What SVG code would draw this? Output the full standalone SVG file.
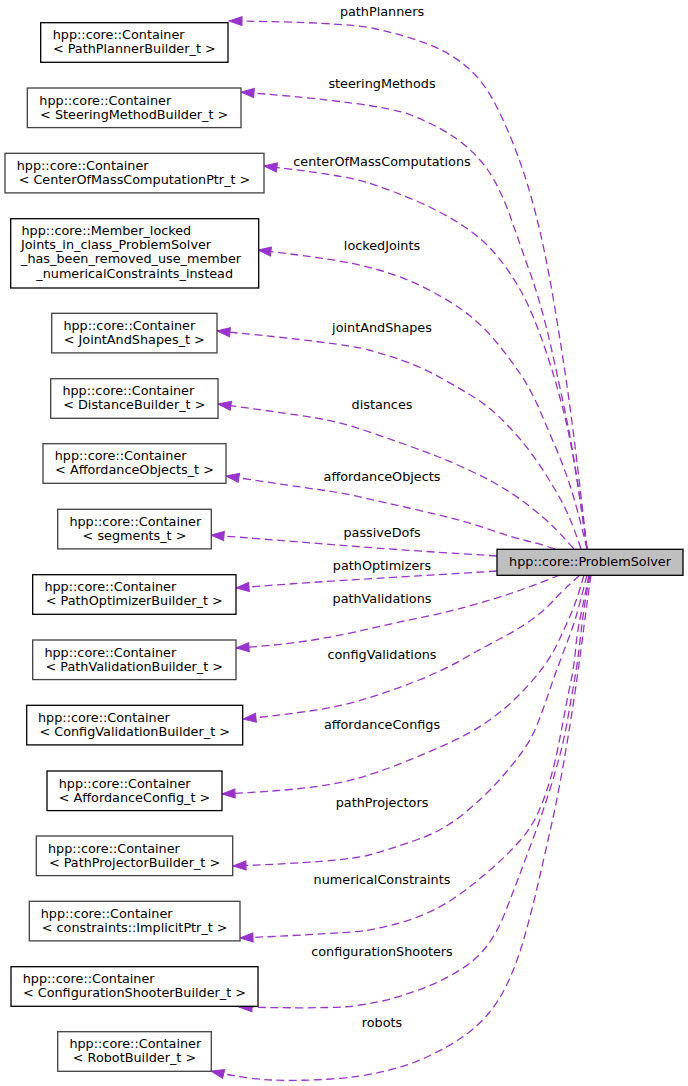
<svg xmlns="http://www.w3.org/2000/svg" width="688" height="1086" viewBox="0 0 688 1086">
<style>
text{font-family:"DejaVu Sans","Liberation Sans",sans-serif;font-size:12.8px;fill:#000}
.m{text-anchor:middle}
.box{fill:#fff;stroke:#000;stroke-width:1.3}
.g{stroke:#404040}
.e{fill:none;stroke:#9a32cd;stroke-width:1.3;stroke-dasharray:8,4.5;marker-end:url(#ah)}
</style>
<defs>
<marker id="ah" markerUnits="userSpaceOnUse" markerWidth="14" markerHeight="10" refX="13" refY="5" orient="auto" overflow="visible">
<path d="M0,0.5 L13,5 L0,9.5 z" fill="#9a32cd" stroke="#9a32cd" stroke-width="1"/>
</marker>
</defs>
<rect width="688" height="1086" fill="#fff"/>
<g id="edges">
<path class="e" d="M587,549 Q576,450 569,400 Q562,350 553.5,300 Q545,250 536,215 Q527,180 517,153.5 Q507,127 495.5,104.5 Q484,82 467.5,67.5 Q451,53 427.5,44 Q404,35 374,28.5 Q344,22 229,21"/>
<path class="e" d="M587,549 Q575,460 567.5,423.5 Q560,387 551,347 Q542,307 531.5,277 Q521,247 511,218.5 Q501,190 489.5,172.5 Q478,155 459.5,141 Q441,127 411,115 Q381,103 241,92"/>
<path class="e" d="M587,549 Q575,460 566.5,423.5 Q558,387 545.5,350 Q533,313 522,293 Q511,273 497.5,256.5 Q484,240 464,226.5 Q444,213 417.5,201.5 Q391,190 367.5,182.5 Q344,175 264,166"/>
<path class="e" d="M587,549 Q577,507 570.5,487 Q564,467 555.5,447 Q547,427 539,408.5 Q531,390 521,375 Q511,360 497.5,343.5 Q484,327 469,315 Q454,303 429,290 Q404,277 379,270 Q354,263 327,259 Q300,255 258,250"/>
<path class="e" d="M581,549 Q574,528 568.5,515.5 Q563,503 555,489.5 Q547,476 537.5,462 Q528,448 517,435.5 Q506,423 495,413 Q484,403 470.5,395 Q457,387 442,378.5 Q427,370 410.5,363.5 Q394,357 369,350 Q344,343 217,331"/>
<path class="e" d="M574,549 Q560,533 551.5,525 Q543,517 530.5,507 Q518,497 504,488.5 Q490,480 472,471.5 Q454,463 437.5,456.5 Q421,450 402.5,443.5 Q384,437 363.5,430 Q343,423 321.5,419 Q300,415 218,404"/>
<path class="e" d="M555,549 Q540,544 525.5,540.5 Q511,537 491,530 Q471,523 451,518 Q431,513 409,508 Q387,503 365,498 Q343,493 321.5,490 Q300,487 226,476"/>
<path class="e" d="M497,556 Q400,550 350,546 Q300,542 211,535"/>
<path class="e" d="M497,571 Q400,577 350,580 Q300,583 236,588"/>
<path class="e" d="M560,575 Q530,587 510.5,593.5 Q491,600 467.5,606.5 Q444,613 419,618 Q394,623 368.5,629 Q343,635 313,640 Q283,645 236,648"/>
<path class="e" d="M580,575 Q563,590 553.5,600.5 Q544,611 530.5,620.5 Q517,630 500.5,638.5 Q484,647 464,658.5 Q444,670 419,680 Q394,690 368.5,698 Q343,706 313,710.5 Q283,715 243,719"/>
<path class="e" d="M584,575 Q577,600 570.5,615 Q564,630 557.5,643.5 Q551,657 541,670 Q531,683 517.5,696.5 Q504,710 487.5,721.5 Q471,733 449,743 Q427,753 402,763 Q377,773 355,779 Q333,785 300,788.5 Q267,792 222,794"/>
<path class="e" d="M587,575 Q580,603 576.5,615 Q573,627 568,640 Q563,653 558,666.5 Q553,680 548,695 Q543,710 537,725 Q531,740 521,753.5 Q511,767 497.5,782 Q484,797 464,813.5 Q444,830 419,839 Q394,848 369,855 Q344,862 233,866"/>
<path class="e" d="M589,575 Q584,600 580.5,616.5 Q577,633 575.5,650 Q574,667 570.5,683.5 Q567,700 564,716.5 Q561,733 557.5,750 Q554,767 549,783.5 Q544,800 537.5,814 Q531,828 520.5,840 Q510,852 499,862 Q488,872 477,881 Q466,890 453.5,898.5 Q441,907 426,913.5 Q411,920 396,924 Q381,928 366,930.5 Q351,933 240,938"/>
<path class="e" d="M590,575 Q584,605 581,632.5 Q578,660 574.5,680 Q571,700 567.5,720 Q564,740 559,758.5 Q554,777 547.5,797 Q541,817 533.5,837.5 Q526,858 519,876.5 Q512,895 504.5,914 Q497,933 486.5,946.5 Q476,960 460,970 Q444,980 427.5,986.5 Q411,993 394,998 Q377,1003 353.5,1006 Q330,1009 239,1007"/>
<path class="e" d="M591,575 Q586,610 583.5,630 Q581,650 577.5,675 Q574,700 570,725 Q566,750 561,777.5 Q556,805 550,831.5 Q544,858 538,884 Q532,910 525,935 Q518,960 509,980 Q500,1000 488.5,1013.5 Q477,1027 462.5,1037 Q448,1047 429,1056 Q410,1065 385.5,1071 Q361,1077 330.5,1079 Q300,1081 272.5,1080 Q245,1079 211,1071"/>
<text class="m" x="382" y="16">pathPlanners</text>
<text class="m" x="382" y="88">steeringMethods</text>
<text class="m" x="382" y="165.5">centerOfMassComputations</text>
<text class="m" x="382" y="249.5">lockedJoints</text>
<text class="m" x="382" y="332">jointAndShapes</text>
<text class="m" x="382" y="409">distances</text>
<text class="m" x="382" y="480.5">affordanceObjects</text>
<text class="m" x="382" y="537">passiveDofs</text>
<text class="m" x="382" y="569.5">pathOptimizers</text>
<text class="m" x="382" y="603">pathValidations</text>
<text class="m" x="382" y="659">configValidations</text>
<text class="m" x="382" y="729">affordanceConfigs</text>
<text class="m" x="382" y="807">pathProjectors</text>
<text class="m" x="382" y="883.5">numericalConstraints</text>
<text class="m" x="382" y="955.5">configurationShooters</text>
<text class="m" x="382" y="1027">robots</text>
</g>
<g id="ProblemSolver">
<rect x="497" y="549.3" width="186" height="26" fill="#bfbfbf" stroke="#000" stroke-width="1.3"/>
<text class="m" x="590" y="566.3">hpp::core::ProblemSolver</text>
</g>
<g id="PathPlannerBuilder">
<rect class="box" x="40.7" y="22.7" width="187.3" height="39.6"/>
<text x="52.7" y="39.3">hpp::core::Container</text>
<text class="m" x="134.3" y="53.3">&lt; PathPlannerBuilder_t &gt;</text>
</g>
<g id="SteeringMethodBuilder">
<rect class="box g" x="27.3" y="88" width="213.7" height="39.6"/>
<text x="39.3" y="104.6">hpp::core::Container</text>
<text class="m" x="134.2" y="118.6">&lt; SteeringMethodBuilder_t &gt;</text>
</g>
<g id="CenterOfMassComputation">
<rect class="box g" x="5" y="153.3" width="259" height="39.6"/>
<text x="16.7" y="169.9">hpp::core::Container</text>
<text class="m" x="134.5" y="183.9">&lt; CenterOfMassComputationPtr_t &gt;</text>
</g>
<g id="MemberLockedJoints">
<rect class="box" x="10.7" y="218.7" width="248" height="69.3"/>
<text x="21.5" y="235">hpp::core::Member_locked</text>
<text x="21" y="249.2">Joints_in_class_ProblemSolver</text>
<text x="21" y="263.4">_has_been_removed_use_member</text>
<text class="m" x="134.7" y="277.6">_numericalConstraints_instead</text>
</g>
<g id="JointAndShapes">
<rect class="box g" x="51.7" y="313.3" width="165.3" height="39.6"/>
<text x="63.4" y="329.9">hpp::core::Container</text>
<text class="m" x="134.3" y="343.9">&lt; JointAndShapes_t &gt;</text>
</g>
<g id="DistanceBuilder">
<rect class="box g" x="50.7" y="378.7" width="167.3" height="39.6"/>
<text x="62.4" y="395.3">hpp::core::Container</text>
<text class="m" x="134.3" y="409.3">&lt; DistanceBuilder_t &gt;</text>
</g>
<g id="AffordanceObjects">
<rect class="box g" x="43" y="443.7" width="183" height="39.6"/>
<text x="54.7" y="460.3">hpp::core::Container</text>
<text class="m" x="134.5" y="474.3">&lt; AffordanceObjects_t &gt;</text>
</g>
<g id="Segments">
<rect class="box g" x="57.7" y="509.3" width="153.6" height="39.6"/>
<text x="69.4" y="525.9">hpp::core::Container</text>
<text class="m" x="134.5" y="539.9">&lt; segments_t &gt;</text>
</g>
<g id="PathOptimizerBuilder">
<rect class="box" x="32.7" y="574.7" width="203.3" height="39.6"/>
<text x="44.4" y="591.3">hpp::core::Container</text>
<text class="m" x="134.3" y="605.3">&lt; PathOptimizerBuilder_t &gt;</text>
</g>
<g id="PathValidationBuilder">
<rect class="box g" x="32.7" y="640" width="203.3" height="39.6"/>
<text x="44.4" y="656.6">hpp::core::Container</text>
<text class="m" x="134.3" y="670.6">&lt; PathValidationBuilder_t &gt;</text>
</g>
<g id="ConfigValidationBuilder">
<rect class="box" x="26.7" y="705.3" width="216" height="39.6"/>
<text x="38" y="721.9">hpp::core::Container</text>
<text class="m" x="134.7" y="735.9">&lt; ConfigValidationBuilder_t &gt;</text>
</g>
<g id="AffordanceConfig">
<rect class="box" x="47" y="771" width="175" height="39.6"/>
<text x="58.7" y="787.6">hpp::core::Container</text>
<text class="m" x="134.5" y="801.6">&lt; AffordanceConfig_t &gt;</text>
</g>
<g id="PathProjectorBuilder">
<rect class="box g" x="36.3" y="836" width="196.4" height="39.6"/>
<text x="48" y="852.6">hpp::core::Container</text>
<text class="m" x="134.5" y="866.6">&lt; PathProjectorBuilder_t &gt;</text>
</g>
<g id="ImplicitPtr">
<rect class="box g" x="29.3" y="901.3" width="210.7" height="39.6"/>
<text x="40.7" y="917.9">hpp::core::Container</text>
<text class="m" x="134.7" y="931.9">&lt; constraints::ImplicitPtr_t &gt;</text>
</g>
<g id="ConfigurationShooterBuilder">
<rect class="box" x="11" y="966.7" width="247" height="39.6"/>
<text x="22.7" y="983.3">hpp::core::Container</text>
<text class="m" x="134.5" y="997.3">&lt; ConfigurationShooterBuilder_t &gt;</text>
</g>
<g id="RobotBuilder">
<rect class="box g" x="57.7" y="1031.7" width="153.6" height="39.6"/>
<text x="69.4" y="1048.3">hpp::core::Container</text>
<text class="m" x="134.5" y="1062.3">&lt; RobotBuilder_t &gt;</text>
</g>
</svg>
